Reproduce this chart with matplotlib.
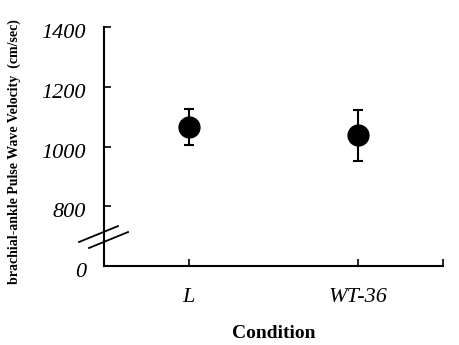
import numpy as np
import matplotlib.pyplot as plt
import matplotlib.transforms as mtransforms

# baPWV by condition (mean +/- SD)
conditions = ['L', 'WT-36']
pwv_mean = [1066, 1037]
pwv_upper = [1127, 1123]
pwv_lower = [1004, 950]

yticks = [600, 800, 1000, 1200, 1400]
ytick_labels = ['0', '800', '1000', '1200', '1400']

plt.rcParams['font.family'] = ['Liberation Serif', 'DejaVu Serif']

fig = plt.figure(figsize=(4.59, 3.45), dpi=100)
ax = fig.add_axes([0.2266, 0.229, 0.7384, 0.6927])

x = np.arange(1, len(conditions) + 1)
mean = np.array(pwv_mean)
err = [mean - np.array(pwv_lower), np.array(pwv_upper) - mean]
ax.errorbar(x, mean, yerr=err, fmt='o', color='black', ms=15,
            elinewidth=1.5, capsize=3.5, capthick=1.5, clip_on=False, zorder=3)

ax.set_xlim(0.5, 2.5)
ax.set_ylim(600, 1400)

ax.set_xticks(list(x) + [2.5])
ax.set_xticklabels(conditions + [''])
ax.set_yticks(yticks)
ax.set_yticklabels(ytick_labels)

ax.tick_params(axis='x', direction='in', length=5, width=1.2, pad=16)
ax.tick_params(axis='y', direction='in', length=5, width=1.2, pad=13)

# italic tick labels, y labels nudged a little below their ticks
shift = mtransforms.ScaledTranslation(0, -4 / 100, fig.dpi_scale_trans)
for lab in ax.get_yticklabels():
    lab.set_fontstyle('italic')
    lab.set_fontsize(16)
    lab.set_transform(lab.get_transform() + shift)
for lab in ax.get_xticklabels():
    lab.set_fontstyle('italic')
    lab.set_fontsize(16)

for side in ['top', 'right']:
    ax.spines[side].set_visible(False)
for side in ['left', 'bottom']:
    ax.spines[side].set_linewidth(1.5)

ax.set_xlabel('Condition', fontsize=14, fontweight='bold', labelpad=13)
ax.set_ylabel('brachial-ankle Pulse Wave Velocity  (cm/sec)', fontsize=10,
              fontweight='bold')
ax.yaxis.set_label_coords(-0.245, 0.48)

# axis break marks
ax.plot([-0.0737, 0.0413], [0.1004, 0.167], color='black', lw=1.3,
        transform=ax.transAxes, clip_on=False)
ax.plot([-0.0442, 0.0708], [0.0753, 0.142], color='black', lw=1.3,
        transform=ax.transAxes, clip_on=False)

fig.savefig('out.png', dpi=100)
